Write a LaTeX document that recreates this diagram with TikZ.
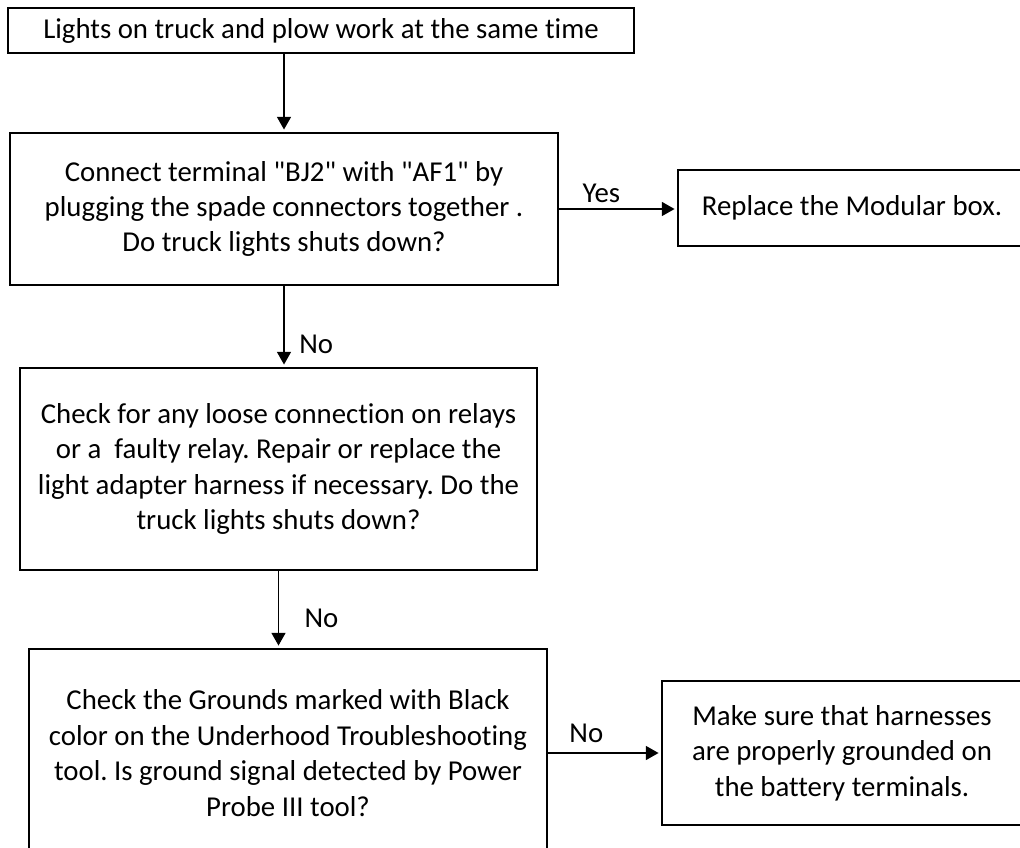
\documentclass[tikz,border=0pt]{standalone}
\usepackage{fontspec}
\setmainfont{Carlito}[Ligatures=NoCommon]
\usepackage{tikz}
\usetikzlibrary{arrows.meta,calc}
\frenchspacing

\begin{document}
\begin{tikzpicture}[x=0.75pt,y=-0.75pt,->,>={Triangle[length=9.5pt,width=10.5pt]},
                    shorten >=2pt,line width=1pt,
                    block/.style={draw,rectangle,line width=1.2pt,align=center,
                      inner sep=0pt,font=\fontsize{21.6}{26.6}\selectfont},
                    answer/.style={font=\fontsize{21.6}{26.6}\selectfont,inner sep=1pt}]

  \clip (0,0) rectangle (1020,848);

  \node[block,minimum width=469.5pt,minimum height=33.75pt] at(321,30.5) (box1)
    {Lights on truck and plow work at the same time};
  \node[block,minimum width=411pt,minimum height=114pt] at(284,209) (box2)
    {Connect terminal \textquotedbl BJ2\textquotedbl{} with \textquotedbl AF1\textquotedbl{} by\\plugging the spade connectors together .\\Do truck lights shuts down?};
  \node[block,minimum width=261pt,minimum height=57pt] at(852,208) (box3)
    {Replace the Modular box.};
  \node[block,minimum width=388pt,minimum height=151.5pt] at(278.5,469) (box4)
    {Check for any loose connection on relays\\or a\ \ faulty relay. Repair or replace the\\light adapter harness if necessary. Do the\\truck lights shuts down?};
  \node[block,minimum width=388.5pt,minimum height=156pt] at(288,753) (box5)
    {Check the Grounds marked with Black\\color on the Underhood Troubleshooting\\tool. Is ground signal detected by Power\\Probe III tool?};
  \node[block,minimum width=270pt,minimum height=108pt] at(842,753) (box6)
    {Make sure that harnesses\\are properly grounded on\\the battery terminals.};

  \path (box1.south -| box2.north) edge (box2.north)
        (box2.east) edge node [answer, above=3pt, pos=0.36]{Yes} (box2.east -| box3.west)
        (box2.south) edge node [answer, right=10pt, pos=0.72]{No} (box2.south |- box4.north)
        (box4.south) edge node [answer, right=18pt, pos=0.61]{No} (box4.south |- box5.north)
        (box5.east) edge node [answer, above=6pt, pos=0.34]{No} (box6.west)
        ;

\end{tikzpicture}
\end{document}
